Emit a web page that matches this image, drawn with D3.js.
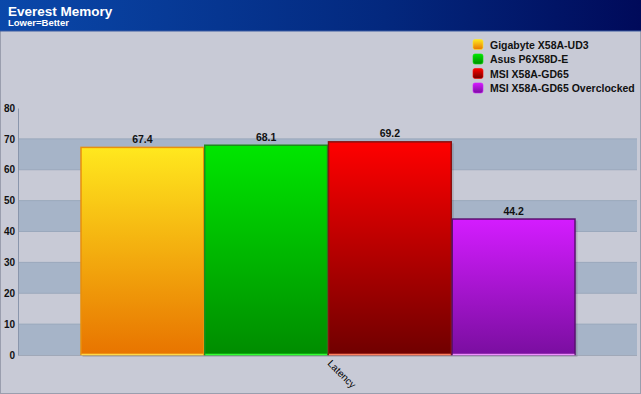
<!DOCTYPE html>
<html><head><meta charset="utf-8">
<script src="https://cdn.jsdelivr.net/npm/d3@7"></script>
<style>
html,body{margin:0;padding:0;background:#c8cad6;}
svg{display:block;font-family:"Liberation Sans",Arial,sans-serif;}
</style></head>
<body>
<svg id="chart" width="641" height="394"></svg>
<script>
const categories = ["Latency"];
const seriesNames = ["Gigabyte X58A-UD3", "Asus P6X58D-E", "MSI X58A-GD65", "MSI X58A-GD65 Overclocked"];
const seriesValues = [67.4, 68.1, 69.2, 44.2];
const yTicks = [0, 10, 20, 30, 40, 50, 60, 70, 80];
const title = "Everest Memory";
const subtitle = "Lower=Better";

const palette = [
  {top:"#ffe81e", bot:"#e87400", stroke:"#e8900c", base:"#ffd84a"},
  {top:"#00e600", bot:"#008c00", stroke:"#1f8a1f", base:"#30ff30"},
  {top:"#ff0000", bot:"#700000", stroke:"#8a1010", base:"#ff8060"},
  {top:"#d41cff", bot:"#7a0ea0", stroke:"#5a1070", base:"#f090ff"}
];

const W = 641, H = 394;
const svg = d3.select("#chart");
const defs = svg.append("defs");

// background
svg.append("rect").attr("width",W).attr("height",H).attr("fill","#c8cad6");
svg.append("rect").attr("x",0.5).attr("y",0.5).attr("width",W-1).attr("height",H-1)
  .attr("fill","none").attr("stroke","#9a9eae");

// header
const hg = defs.append("linearGradient").attr("id","hdr").attr("x1","0").attr("x2","1").attr("y1","0").attr("y2","0");
hg.append("stop").attr("offset","0").attr("stop-color","#0a48aa");
hg.append("stop").attr("offset","0.6").attr("stop-color","#03287e");
hg.append("stop").attr("offset","1").attr("stop-color","#000a5a");
svg.append("rect").attr("x",0).attr("y",0).attr("width",W).attr("height",31).attr("fill","url(#hdr)");
svg.append("line").attr("x1",0).attr("x2",W).attr("y1",31).attr("y2",31).attr("stroke","#3a5aa0").attr("stroke-width",1);
svg.append("text").attr("x",8).attr("y",15.5).attr("fill","#fff").attr("font-weight","bold").attr("font-size",13.5).text(title);
svg.append("text").attr("x",8).attr("y",26).attr("fill","#fff").attr("font-weight","bold").attr("font-size",9.5).text(subtitle);

// scales
const x0 = d3.scaleBand().domain(categories).range([18, 638]).paddingOuter(0.1009).paddingInner(0);
const groupW = 495;
const x1 = d3.scaleBand().domain(seriesNames).range([0, groupW]).padding(0);
const y = d3.scaleLinear().domain([0, 80]).range([355, 108]);

// bands
for (let i = 0; i < yTicks.length - 1; i += 2) {
  svg.append("rect").attr("x",19).attr("width",618)
    .attr("y", y(yTicks[i+1])).attr("height", y(yTicks[i]) - y(yTicks[i+1]))
    .attr("fill","#a6b4c8");
}
svg.selectAll("line.grid").data(yTicks.filter(t=>t>0 && t<80)).enter().append("line")
  .attr("x1",19).attr("x2",637).attr("y1",d=>y(d)).attr("y2",d=>y(d))
  .attr("stroke","#9aa8bc").attr("stroke-width",1);

// y axis
const yAxis = d3.axisLeft(y).tickValues(yTicks).tickSize(0).tickPadding(3);
const ya = svg.append("g").attr("transform","translate(18,0)").call(yAxis);
ya.select(".domain").attr("stroke","#8a96ac");
ya.selectAll("text").attr("font-weight","bold").attr("font-size",10).attr("fill","#111")
  .attr("font-family","Liberation Sans, Arial, sans-serif");
svg.append("line").attr("x1",18).attr("x2",637).attr("y1",y(0)+0.5).attr("y2",y(0)+0.5).attr("stroke","#a0a8b8");

// gradients for bars
palette.forEach((p,i)=>{
  const g = defs.append("linearGradient").attr("id","bg"+i).attr("x1","0").attr("x2","0").attr("y1","0").attr("y2","1");
  g.append("stop").attr("offset","0").attr("stop-color",p.top);
  g.append("stop").attr("offset","1").attr("stop-color",p.bot);
});

const groupX = x0(categories[0]) + (x0.bandwidth() - groupW)/2;
const bars = svg.append("g").attr("transform",`translate(${groupX},0)`);
seriesNames.forEach((s,i)=>{
  const bx = x1(s), bw = x1.bandwidth(), top = y(seriesValues[i]), bh = y(0) - top;
  bars.append("rect").attr("x",bx+2).attr("y",top+2).attr("width",bw).attr("height",bh)
    .attr("fill","#000").attr("opacity",0.12);
  bars.append("rect").attr("x",bx+0.5).attr("y",top+0.5).attr("width",bw-1).attr("height",bh-1)
    .attr("fill","url(#bg"+i+")").attr("stroke",palette[i].stroke).attr("stroke-width",1.5);
  bars.append("line").attr("x1",bx+1).attr("x2",bx+bw-1).attr("y1",y(0)-0.5).attr("y2",y(0)-0.5)
    .attr("stroke",palette[i].base).attr("stroke-width",1.5);
  bars.append("text").attr("x",bx+bw/2).attr("y",top-4).attr("text-anchor","middle")
    .attr("font-weight","bold").attr("font-size",10.5).attr("fill","#111").text(seriesValues[i]);
});

// category label rotated
svg.append("text").attr("transform",`translate(${x0(categories[0]) + x0.bandwidth()/2 + 4},${y(0)+4}) rotate(45)`)
  .attr("font-size",10).attr("fill","#000").attr("dominant-baseline","hanging").text(categories[0]);

// legend
const lg = svg.append("g").attr("transform","translate(473,39)");
seriesNames.forEach((s,i)=>{
  const row = lg.append("g").attr("transform",`translate(0,${i*14.5})`);
  row.append("rect").attr("x",0).attr("y",0.5).attr("width",10).attr("height",10).attr("rx",2)
    .attr("fill","url(#bg"+i+")").attr("stroke",palette[i].top).attr("stroke-opacity",0.6);
  row.append("text").attr("x",17).attr("y",9.5).attr("font-weight","bold").attr("font-size",10.5)
    .attr("fill","#111").text(s);
});
</script>
</body></html>
